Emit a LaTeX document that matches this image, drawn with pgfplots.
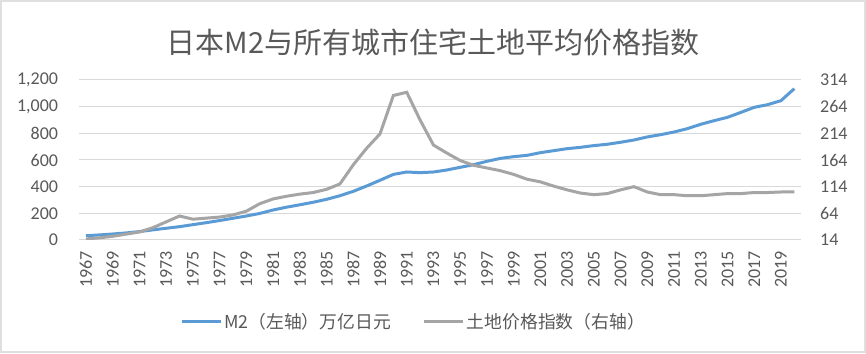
\documentclass[border=0pt]{standalone}
\usepackage{pgfplots}
\pgfplotsset{compat=1.18}
\usepackage{fontspec}
\setmainfont{Carlito}
\newfontfamily\cjk{Noto Sans CJK SC}
\definecolor{mblue}{RGB}{91,155,213}
\definecolor{mgray}{RGB}{165,165,165}
\definecolor{tgray}{RGB}{89,89,89}
\definecolor{gridc}{RGB}{217,217,217}

\pgfplotstableread{
year m2
1967 32
1968 38
1969 45
1970 53
1971 63
1972 76
1973 88
1974 100
1975 115
1976 130
1977 146
1978 163
1979 180
1980 199
1981 225
1982 246
1983 264
1984 283
1985 305
1986 332
1987 365
1988 405
1989 448
1990 492
1991 510
1992 505
1993 510
1994 525
1995 545
1996 565
1997 590
1998 612
1999 625
2000 635
2001 655
2002 670
2003 685
2004 695
2005 708
2006 718
2007 733
2008 750
2009 773
2010 790
2011 810
2012 835
2013 868
2014 895
2015 920
2016 957
2017 995
2018 1015
2019 1045
2020 1135
}\mtwo

\pgfplotstableread{
year land
1967 16
1968 18
1969 21
1970 25
1971 29
1972 37
1973 48
1974 59
1975 53
1976 55
1977 57
1978 61
1979 68
1980 82
1981 91
1982 96
1983 100
1984 103
1985 109
1986 119
1987 155
1988 186
1989 213
1990 285
1991 291
1992 239
1993 192
1994 177
1995 163
1996 154
1997 149
1998 144
1999 137
2000 128
2001 123
2002 115
2003 108
2004 102
2005 99
2006 101
2007 108
2008 114
2009 104
2010 99
2011 99
2012 97
2013 97
2014 99
2015 101
2016 101
2017 103
2018 103
2019 104
2020 104
}\land

\begin{document}
\begin{tikzpicture}
\useasboundingbox (0,0) rectangle (866pt,353pt);
\fill[white] (0,0) rectangle (866pt,353pt);
\draw[gray!25, line width=2pt] (1pt,1pt) rectangle (865pt,352pt);
\node[font=\cjk\fontsize{29}{32}\selectfont, text=tgray] at (433pt,311pt) {日本M2与所有城市住宅土地平均价格指数};

\pgfplotsset{common/.style={
  scale only axis, width=721.7pt, height=160pt,
  at={(79.3pt,113pt)}, anchor=south west,
  xmin=1966.5, xmax=2020.5,
  axis line style={draw=none}, tick style={draw=none},
  ticklabel style={font=\fontsize{18}{20}\selectfont, text=tgray},
  /pgf/number format/assume math mode=true,
  scaled ticks=false,
}}

\begin{axis}[common,
  ymin=0, ymax=1200, ytick={0,200,...,1200},
  ymajorgrids, grid style={draw=gridc, line width=1pt},
  xtick={1967,1969,...,2019},
  xticklabel style={yshift=-11pt, rotate=90, anchor=east, inner sep=0pt, /pgf/number format/1000 sep={}},
  yticklabel style={anchor=east, inner sep=0pt, xshift=-21pt, /pgf/number format/1000 sep={,}},
]
\addplot[mblue, line width=3pt] table[x=year, y=m2] {\mtwo};
\end{axis}

\begin{axis}[common,
  axis y line*=right,
  ymin=14, ymax=314, ytick={14,64,...,314},
  xtick=\empty,
  yticklabel style={anchor=west, inner sep=0pt, xshift=19pt},
  legend columns=2,
  legend style={draw=none, fill=none, at={(0.463,-0.5125)}, anchor=center,
    font=\cjk\fontsize{17.8}{20}\selectfont, text=tgray,
    /tikz/every even column/.append style={column sep=30pt},
    nodes={inner sep=2pt}},
  legend image code/.code={\draw[#1] (0pt,0pt) -- (39pt,0pt);},
]
\addlegendimage{mblue, line width=3pt}
\addlegendentry{M2（左轴）万亿日元}
\addplot[mgray, line width=3pt] table[x=year, y=land] {\land};
\addlegendentry{土地价格指数（右轴）}
\end{axis}
\end{tikzpicture}
\end{document}
